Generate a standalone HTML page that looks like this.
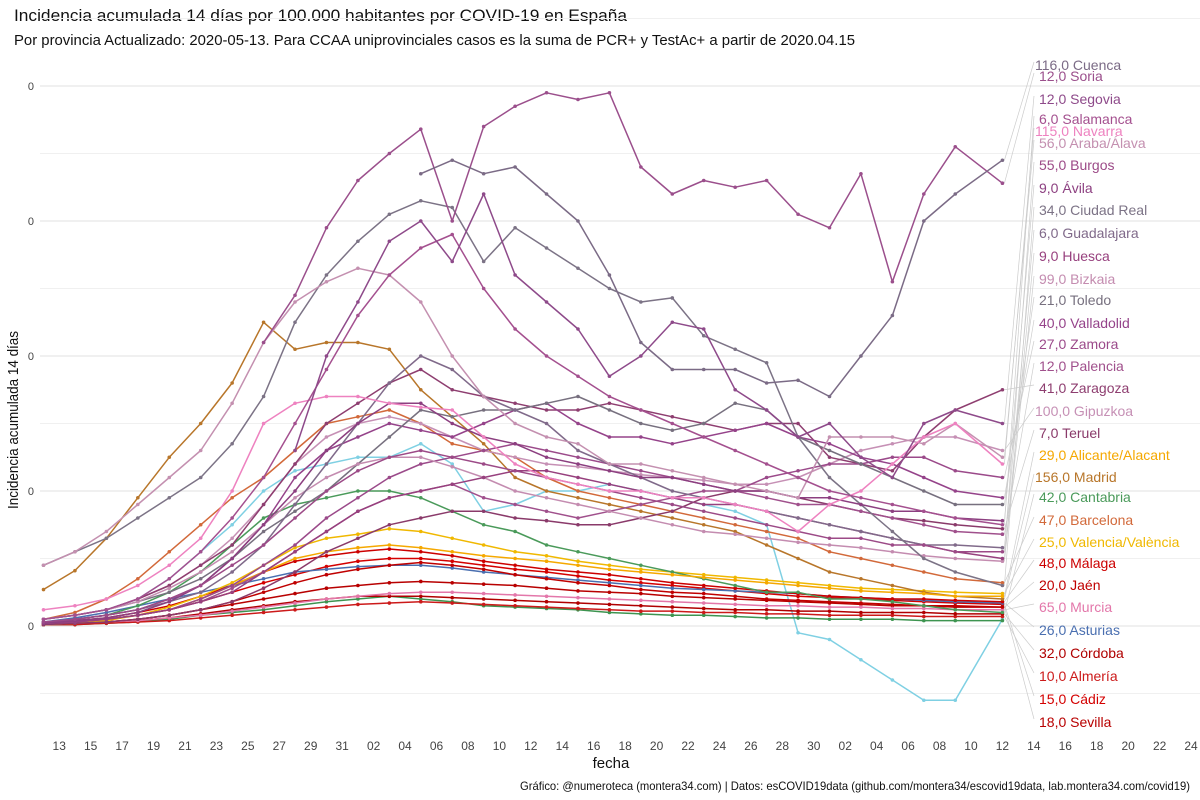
<!DOCTYPE html>
<html><head><meta charset="utf-8">
<style>
body{margin:0;background:#fff;}
svg{display:block;font-family:"Liberation Sans Narrow","Liberation Sans",sans-serif;}
</style></head>
<body>
<svg id="chart" width="1200" height="800" viewBox="0 0 1200 800">
<text x="14" y="21" font-size="17" fill="#111" textLength="613" lengthAdjust="spacingAndGlyphs">Incidencia acumulada 14 días por 100.000 habitantes por COVID-19 en España</text>
<text x="14" y="45" font-size="15" fill="#111" textLength="841" lengthAdjust="spacingAndGlyphs">Por provincia Actualizado: 2020-05-13. Para CCAA uniprovinciales casos es la suma de PCR+ y TestAc+ a partir de 2020.04.15</text>
<text transform="translate(18,420) rotate(-90)" text-anchor="middle" font-size="15" fill="#111" textLength="178" lengthAdjust="spacingAndGlyphs">Incidencia acumulada 14 días</text>
<text x="611" y="768" text-anchor="middle" font-size="15" fill="#111">fecha</text>
<text x="520" y="790" font-size="12" fill="#111" textLength="670" lengthAdjust="spacingAndGlyphs">Gráfico: @numeroteca (montera34.com) | Datos: esCOVID19data (github.com/montera34/escovid19data, lab.montera34.com/covid19)</text>
<g id="grid"></g><g id="xticks"></g><g id="yticks"></g><g id="leaders"></g><g id="series"></g><g id="labels"></g>
</svg>
<script>
const days=[0,2,4,6,8,10,12,14,16,18,20,22,24,26,28,30,32,34,36,38,40,42,44,46,48,50,52,54,56,58,61];
const xTickDays=[1,3,5,7,9,11,13,15,17,19,21,23,25,27,29,31,33,35,37,39,41,43,45,47,49,51,53,55,57,59,61,63,65,67,69,71,73];
const xTickLabels=["13","15","17","19","21","23","25","27","29","31","02","04","06","08","10","12","14","16","18","20","22","24","26","28","30","02","04","06","08","10","12","14","16","18","20","22","24"];
const yTicks=[0,100,200,300,400];
const yTickLabels=["0","0","0","0","0"];
const names=["Cuenca","Soria","Segovia","Salamanca","Navarra","Araba/Álava","Burgos","Ávila","Ciudad Real","Guadalajara","Huesca","Bizkaia","Toledo","Valladolid","Zamora","Palencia","Zaragoza","Gipuzkoa","Teruel","Alicante/Alacant","Madrid","Cantabria","Barcelona","Valencia/València","Málaga","Jaén","Murcia","Asturias","Córdoba","Almería","Cádiz","Sevilla"];
const lastCases=["116,0","12,0","12,0","6,0","115,0","56,0","55,0","9,0","34,0","6,0","9,0","99,0","21,0","40,0","27,0","12,0","41,0","100,0","7,0","29,0","156,0","42,0","47,0","25,0","48,0","20,0","65,0","26,0","32,0","10,0","15,0","18,0"];
const colors=["#7b6b86","#9b4f8c","#8e4a8a","#a4508f","#ee82c0","#c490b0","#9c4a87","#8c3f80","#7c7386","#806a8a","#97407e","#c48cb0","#77707f","#95438a","#9b4a8a","#a0508c","#8e3e70","#c690b5","#8a3a6a","#f5a800","#b8762a","#4a9a5a","#d2693a","#f0b800","#cc0000","#c00000","#e377aa","#4a6fb0","#b00000","#cc1a1a","#d40000","#b80000"];
const N=null;
const vCuenca=[N,N,N,N,N,N,N,N,N,N,N,N,335,345,335,340,320,300,260,210,190,190,190,180,182,170,200,230,300,320,345];
const vSoria=[N,N,N,N,N,N,N,210,245,295,330,350,368,300,370,385,395,390,395,340,320,330,325,330,305,295,335,255,320,355,328];
const vSegovia=[N,N,N,N,N,N,N,N,130,200,240,285,300,270,320,260,240,220,185,200,225,220,175,160,140,150,125,110,150,160,150];
const vSalamanca=[5,8,12,20,35,55,80,110,150,190,230,260,280,290,250,220,200,185,170,160,150,140,130,120,110,100,95,90,85,80,75];
const vNavarra=[12,15,20,30,45,65,100,150,165,170,170,165,162,160,140,120,110,105,100,100,95,95,90,85,70,90,100,120,140,150,120];
const vAraba=[45,55,70,90,110,130,165,210,240,255,265,260,240,200,170,150,140,135,120,120,115,110,105,100,95,140,140,140,135,150,125];
const vBurgos=[3,5,8,12,20,30,45,60,80,100,115,125,130,125,120,115,110,105,100,95,90,85,80,75,70,65,65,60,60,55,55];
const vAvila=[2,4,6,10,18,30,50,75,100,130,150,165,165,150,140,135,125,120,115,110,110,105,100,100,95,95,90,85,85,80,78];
const vCiudadReal=[45,55,65,80,95,110,135,170,225,260,285,305,315,310,270,295,280,265,250,240,243,215,205,195,140,110,90,70,50,40,30];
const vGuadalajara=[3,5,8,12,18,25,40,60,90,120,150,180,200,190,170,160,150,130,120,110,100,95,90,85,80,75,70,65,60,60,58];
const vHuesca=[2,3,5,8,12,18,25,40,55,70,85,95,100,105,110,115,115,110,105,100,95,90,90,85,80,75,70,65,60,55,50];
const vBizkaia=[5,8,12,18,28,40,55,75,95,110,120,125,125,118,110,100,95,90,85,80,75,70,68,65,62,60,58,55,52,50,48];
const vToledo=[5,8,12,18,25,35,50,70,85,100,120,140,160,155,160,160,165,170,160,150,145,150,165,160,140,130,120,110,100,90,90];
const vValladolid=[3,5,8,12,20,30,50,75,110,130,140,150,145,140,150,160,165,150,140,140,135,140,145,150,140,135,125,120,110,100,95];
const vZamora=[2,3,5,8,12,20,30,45,60,80,95,110,120,125,130,135,130,125,120,115,110,105,100,110,115,120,120,125,125,115,110];
const vPalencia=[2,3,5,8,12,18,28,40,55,70,85,95,100,105,95,90,85,80,85,90,95,100,100,95,90,90,85,80,75,70,68];
const vZaragoza=[5,8,12,20,30,45,60,90,120,150,165,180,190,175,170,165,160,160,165,160,155,150,145,150,150,125,120,115,140,160,175];
const vGipuzkoa=[5,8,12,20,30,45,65,90,120,140,150,155,150,140,130,125,120,118,115,112,110,108,105,105,110,120,130,135,140,140,130];
const vTeruel=[1,2,3,5,8,12,18,28,40,55,65,75,80,85,85,80,78,75,75,80,85,95,100,100,95,90,85,80,78,75,72];
const vAlicante=[2,3,5,8,12,20,30,40,50,55,58,60,58,55,52,50,48,45,42,40,38,36,34,32,30,28,26,25,24,22,22];
const vMadrid=[27,41,65,95,125,150,180,225,205,210,210,205,175,155,135,110,100,95,90,85,80,75,70,60,50,40,35,30,25,22,20];
const vCantabria=[2,5,8,15,25,40,60,80,90,95,100,100,95,85,75,70,60,55,50,45,40,35,30,25,25,20,20,18,15,12,10];
const vBarcelona=[5,10,20,35,55,75,95,110,130,150,155,160,150,135,130,125,110,100,95,90,85,80,75,70,65,55,50,45,40,35,32];
const vValencia=[1,2,4,8,14,22,32,45,58,65,68,72,70,65,60,55,52,48,45,42,40,38,36,34,32,30,28,27,26,25,24];
const vMalaga=[2,4,6,10,15,22,30,40,48,52,55,57,55,52,48,45,42,40,38,35,32,30,28,26,24,22,21,20,20,19,18];
const vJaen=[1,2,3,5,8,12,18,25,32,38,42,45,47,45,42,38,35,32,30,27,25,24,22,20,19,18,17,16,15,15,14];
const vMurcia=[1,2,3,4,6,8,11,14,17,20,22,24,25,25,24,23,22,21,20,19,18,17,16,15,15,14,14,13,13,12,12];
const vAsturias=[3,6,10,15,20,25,30,35,40,42,44,45,45,43,40,38,36,34,32,30,28,27,26,25,24,22,21,20,19,18,17];
const vCordoba=[1,2,3,4,6,9,12,15,18,20,22,22,22,21,20,19,18,17,16,15,14,13,12,12,11,11,10,10,10,9,9];
const vAlmeria=[1,1,2,3,4,6,8,10,12,14,16,17,18,17,16,15,14,13,12,11,11,10,10,9,9,8,8,8,7,7,7];
const vCadiz=[2,3,5,8,12,18,25,32,38,44,48,50,50,48,45,42,40,37,34,32,30,28,26,24,22,21,20,19,18,17,16];
const vSevilla=[1,2,3,5,8,12,16,20,24,28,30,32,33,32,31,30,28,26,25,24,22,21,20,19,18,17,16,15,15,14,14];
const vExtraCyan=[5,8,12,20,35,55,75,100,115,120,125,125,135,120,85,90,100,100,105,100,95,90,85,75,-5,-10,-25,-40,-55,-55,5];
const vExtraGreen=[1,1,2,3,5,8,10,12,15,18,20,22,20,18,15,14,13,12,10,9,8,8,7,6,6,5,5,5,4,4,4];
const seriesValues=[vCuenca,vSoria,vSegovia,vSalamanca,vNavarra,vAraba,vBurgos,vAvila,vCiudadReal,vGuadalajara,vHuesca,vBizkaia,vToledo,vValladolid,vZamora,vPalencia,vZaragoza,vGipuzkoa,vTeruel,vAlicante,vMadrid,vCantabria,vBarcelona,vValencia,vMalaga,vJaen,vMurcia,vAsturias,vCordoba,vAlmeria,vCadiz,vSevilla];

const NS="http://www.w3.org/2000/svg";
const X0=43.5, PXD=15.72, Y0=626, PXV=1.35;
function xs(d){return X0+d*PXD;}
function ys(v){return Y0-v*PXV;}
function mk(tag,attrs,parent){const e=document.createElementNS(NS,tag);for(const k in attrs)e.setAttribute(k,attrs[k]);parent.appendChild(e);return e;}
const grid=document.getElementById('grid');
for(let i=-1;i<yTicks.length;i++){
  const v=yTicks[Math.max(i,0)]+(i<0?-50:50);
  const g=mk('line',{x1:40,x2:1200,y1:ys(v),y2:ys(v),stroke:'#f0f0f0','stroke-width':1},grid);
  
  
}
const yt=document.getElementById('yticks');
yTicks.forEach((v,i)=>{
  const g=mk('line',{x1:40,x2:1200,y1:ys(v),y2:ys(v),stroke:'#e6e6e6','stroke-width':1.2},grid);
  
  
  const t=mk('text',{x:34,y:ys(v)+4,'text-anchor':'end','font-size':11,fill:'#444'},yt);
  t.textContent=yTickLabels[i];
  
  
});
const xt=document.getElementById('xticks');
xTickDays.forEach((d,i)=>{
  const t=mk('text',{x:xs(d),y:750,'text-anchor':'middle','font-size':12,fill:'#444'},xt);
  t.textContent=xTickLabels[i];
  
  
});
const sg=document.getElementById('series');
function drawSeries(vals,color,name){
  const g=mk('g',{},sg);
  
  
  let d='',pen=false;
  vals.forEach((v,i)=>{
    if(v===null){pen=false;return;}
    d+=(pen?'L':'M')+xs(days[i]).toFixed(1)+','+ys(v).toFixed(1);pen=true;
  });
  const p=mk('path',{d:d,fill:'none',stroke:color,'stroke-width':1.5,'stroke-linejoin':'round'},g);
  
  
  vals.forEach((v,i)=>{
    if(v===null)return;
    const c=mk('circle',{cx:xs(days[i]),cy:ys(v),r:1.8,fill:color},g);
    
    
  });
}
drawSeries(vExtraCyan,'#7fd0e3','series-extra-cyan');
drawSeries(vExtraGreen,'#3d9450','series-extra-green');
for(let i=seriesValues.length-1;i>=0;i--)drawSeries(seriesValues[i],colors[i],'series-'+i);
const labelY=[70,81,104,124,136,148,170,193,215,238,261,284,305,328,349,371,393,416,438,460,482,502,525,547,568,590,612,635,658,681,704,727];
const lg=document.getElementById('leaders'), lb=document.getElementById('labels');
names.forEach((n,i)=>{
  const vals=seriesValues[i];let lv=vals[vals.length-1];
  const ln=mk('line',{x1:xs(days[days.length-1])+2,y1:ys(lv),x2:1034,y2:labelY[i]-8,stroke:'#ccc','stroke-width':0.7},lg);
  
  
  const t=mk('text',{x:lastCases[i].length>4?1035:1039,y:labelY[i],'font-size':14,fill:colors[i]},lb);
  t.textContent=lastCases[i]+' '+n;
  
  
});
</script>
</body></html>
